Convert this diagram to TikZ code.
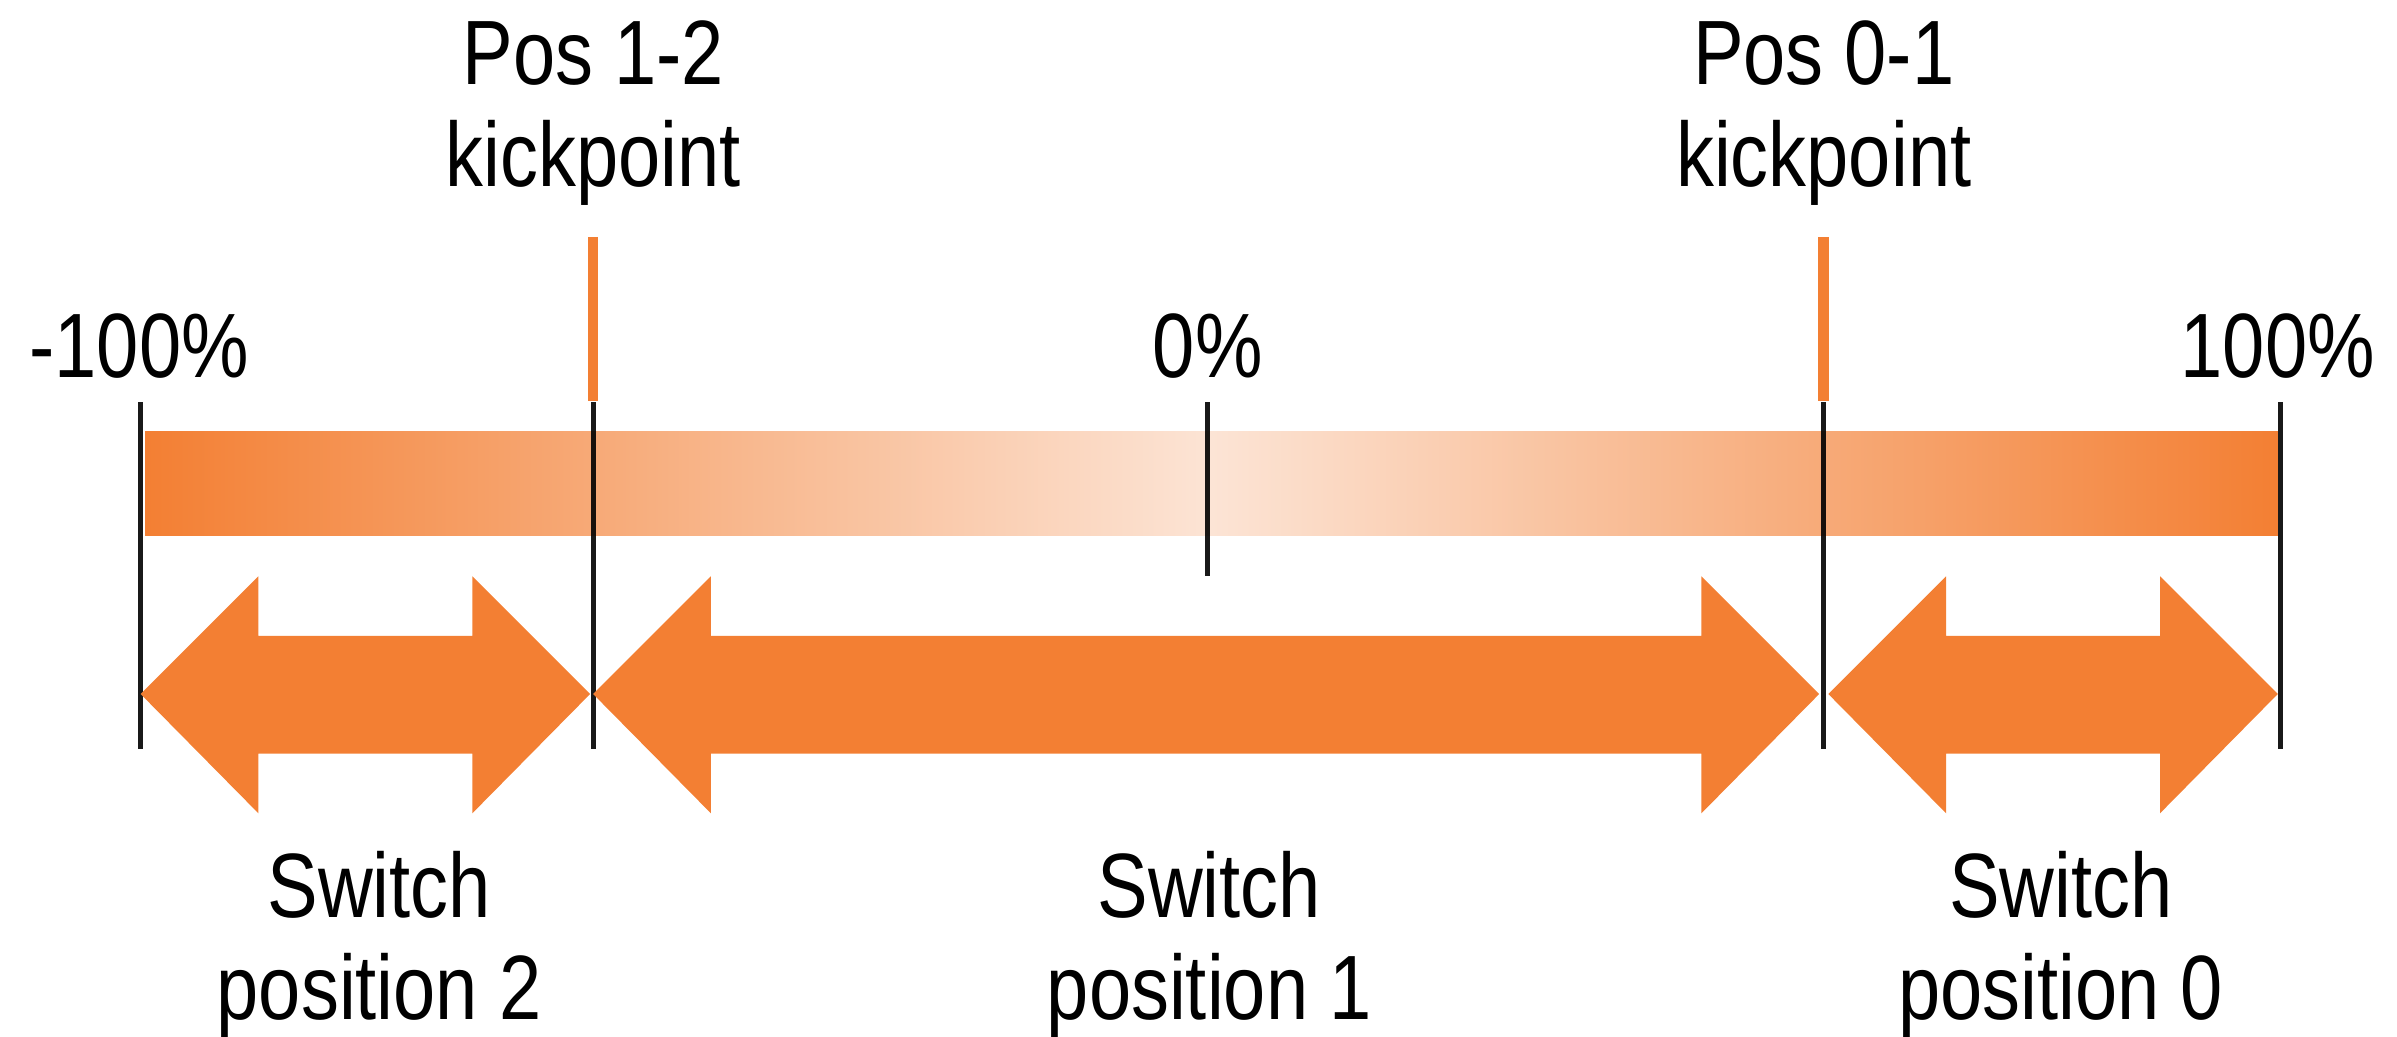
\documentclass[tikz,border=0pt]{standalone}
\usepackage{fontspec}
\setmainfont[FakeStretch=0.83]{Liberation Sans}
\usetikzlibrary{calc}
\definecolor{cOrange}{HTML}{F37F33}
\definecolor{cPale}{HTML}{FCE4D5}
\definecolor{cInk}{HTML}{000000}
\tikzset{
  lbl/.style={font=\fontsize{26}{29}\selectfont, inner sep=0pt, align=center, anchor=base, text=cInk},
  tick/.style={line width=1.4pt, draw=cInk, draw opacity=0.9},
  kick/.style={line width=3pt, draw=cOrange},
  band/.style={left color=cOrange, right color=cOrange, middle color=cPale},
  blockarr/.style={fill=cOrange, draw=none},
}
\begin{document}
\begin{tikzpicture}[x=0.15287mm, y=-0.15287mm]
\useasboundingbox (0,0) rectangle (1568,678);
% scale band
\shade[band] (95,282) rectangle (1490,350);
% ticks
\foreach \x in {92,388,1193,1492} \draw[tick] (\x,263) -- (\x,490);
\draw[tick] (790,263) -- (790,377);
\foreach \x in {388,1193} \draw[kick] (\x,155) -- (\x,262);
% switch ranges
\foreach \a/\b in {92/386,388/1190,1196/1490}
  \fill[blockarr] (\a,454) -- (\a+77,377) -- (\a+77,416) -- (\b-77,416) -- (\b-77,377)
    -- (\b,454) -- (\b-77,532) -- (\b-77,493) -- (\a+77,493) -- (\a+77,532) -- cycle;
% labels (base = last line)
\node[lbl] (kp12) at (388,122) {Pos 1-2\\kickpoint};
\node[lbl] (kp01) at (1193,122) {Pos 0-1\\kickpoint};
\node[lbl] (lo) at (91,247) {-100\%};
\node[lbl] (mid) at (790,247) {0\%};
\node[lbl] (hi) at (1490,247) {100\%};
\node[lbl] (sw2) at (248,667) {Switch\\position 2};
\node[lbl] (sw1) at (791,667) {Switch\\position 1};
\node[lbl] (sw0) at (1348,667) {Switch\\position 0};
\end{tikzpicture}
\end{document}
